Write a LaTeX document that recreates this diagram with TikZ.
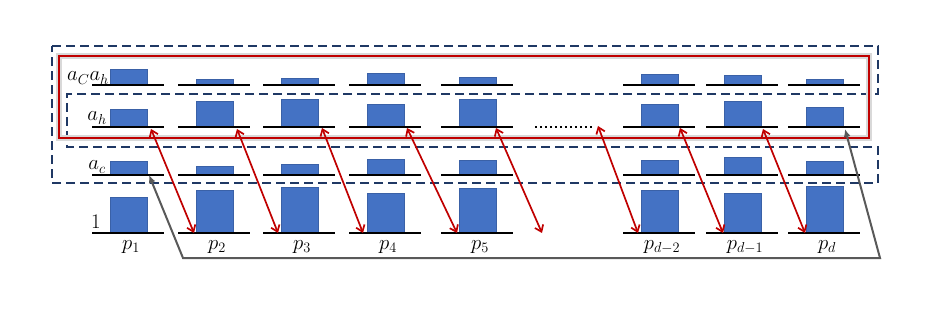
\documentclass[tikz,border=0pt]{standalone}
\usetikzlibrary{arrows.meta}
\definecolor{barblue}{HTML}{4472C4}
\definecolor{navy}{HTML}{1F3864}
\definecolor{darkred}{HTML}{C00000}
\definecolor{greyline}{HTML}{595959}
\begin{document}
\begin{tikzpicture}[x=1pt,y=-1pt,
  bar/.style={fill=barblue, draw=barblue!85!black, line width=0.3pt, inner sep=0pt, minimum width=37pt, anchor=south west},
  baseln/.style={line width=1.1pt, black},
  lab/.style={font=\fontsize{20.74}{24}\selectfont, inner sep=0pt},
  link/.style={darkred, line width=1.7pt, {Straight Barb[length=6pt,width=9pt]}-{Straight Barb[length=6pt,width=9pt]}},
  greylink/.style={greyline, line width=2pt, {Latex[length=8pt,width=7pt]}-{Latex[length=8pt,width=7pt]}},
  groupline/.style={navy, line width=2pt, dash pattern=on 9pt off 5pt},
  redbox/.style={darkred, line width=2.4pt},
  redshadow/.style={black!15, line width=5.5pt}]
\useasboundingbox (0,0) rectangle (926,310);

% dashed group (a_c rows)
\draw[groupline] (52,46) -- (878,46) -- (878,94) -- (67,94) -- (67,147) -- (878,147) -- (878,183) -- (52,183) -- cycle;

% red group (a_h rows)
\draw[redshadow] (59,56) rectangle (869,138);
\draw[redbox] (59,56) rectangle (869,138);

% columns
\foreach \i/\x/\ta/\tb/\tc/\td/\lab in {1/92/16/18/14/36/1, 2/178/6/26/9/43/2, 3/263/7/28/11/46/3, 4/349/12/23/16/40/4, 5/441/8/28/15/45/5, 6/623/11/23/15/43/{d-2}, 7/706/10/26/18/40/{d-1}, 8/788/6/20/14/47/d}{
  \node[bar, minimum height=\ta*1pt] (t\i) at (\x+18,85) {};
  \node[bar, minimum height=\tb*1pt] (h\i) at (\x+18,127) {};
  \node[bar, minimum height=\tc*1pt] (c\i) at (\x+18,175) {};
  \node[bar, minimum height=\td*1pt] (o\i) at (\x+18,233) {};
  \draw[baseln] (\x,85) -- ++(72,0);
  \draw[baseln] (\x,127) -- ++(72,0);
  \draw[baseln] (\x,175) -- ++(72,0);
  \draw[baseln] (\x,233) -- ++(72,0);
  \node[lab] (p\i) at (\x+39,247) {$p_{\lab}$};
}

% row labels
\node[lab, anchor=east] (lch) at (109,78) {$a_C a_h$};
\node[lab] (lh) at (97,118) {$a_h$};
\node[lab] (lc) at (97,167) {$a_c$};
\node[lab] (lone) at (96,222) {1};

% dots
\draw[line width=2pt, dash pattern=on 2pt off 3pt] (535,127) -- (593,127);

% arrow ends
\coordinate (u1) at (151,129);
\coordinate (u2) at (237,129);
\coordinate (u3) at (322,128);
\coordinate (u4) at (407,128);
\coordinate (u5) at (496,128);
\coordinate (ud) at (598,126);
\coordinate (u6) at (680,128);
\coordinate (u7) at (763,129);
\coordinate (w2) at (194,233);
\coordinate (w3) at (278,233);
\coordinate (w4) at (363,233);
\coordinate (w5) at (457,233);
\coordinate (wg) at (542,233);
\coordinate (w6) at (638,233);
\coordinate (w7) at (723,233);
\coordinate (w8) at (805,233);

\draw[link] (u1) -- (w2);
\draw[link] (u2) -- (w3);
\draw[link] (u3) -- (w4);
\draw[link] (u4) -- (w5);
\draw[link] (u5) -- (wg);
\draw[link] (ud) -- (w6);
\draw[link] (u6) -- (w7);
\draw[link] (u7) -- (w8);

% grey connector
\coordinate (g1) at (149,175);
\coordinate (g2) at (183,258);
\coordinate (g3) at (880,258);
\coordinate (g4) at (845,129);
\draw[greylink] (g1) -- (g2) -- (g3) -- (g4);
\end{tikzpicture}
\end{document}
